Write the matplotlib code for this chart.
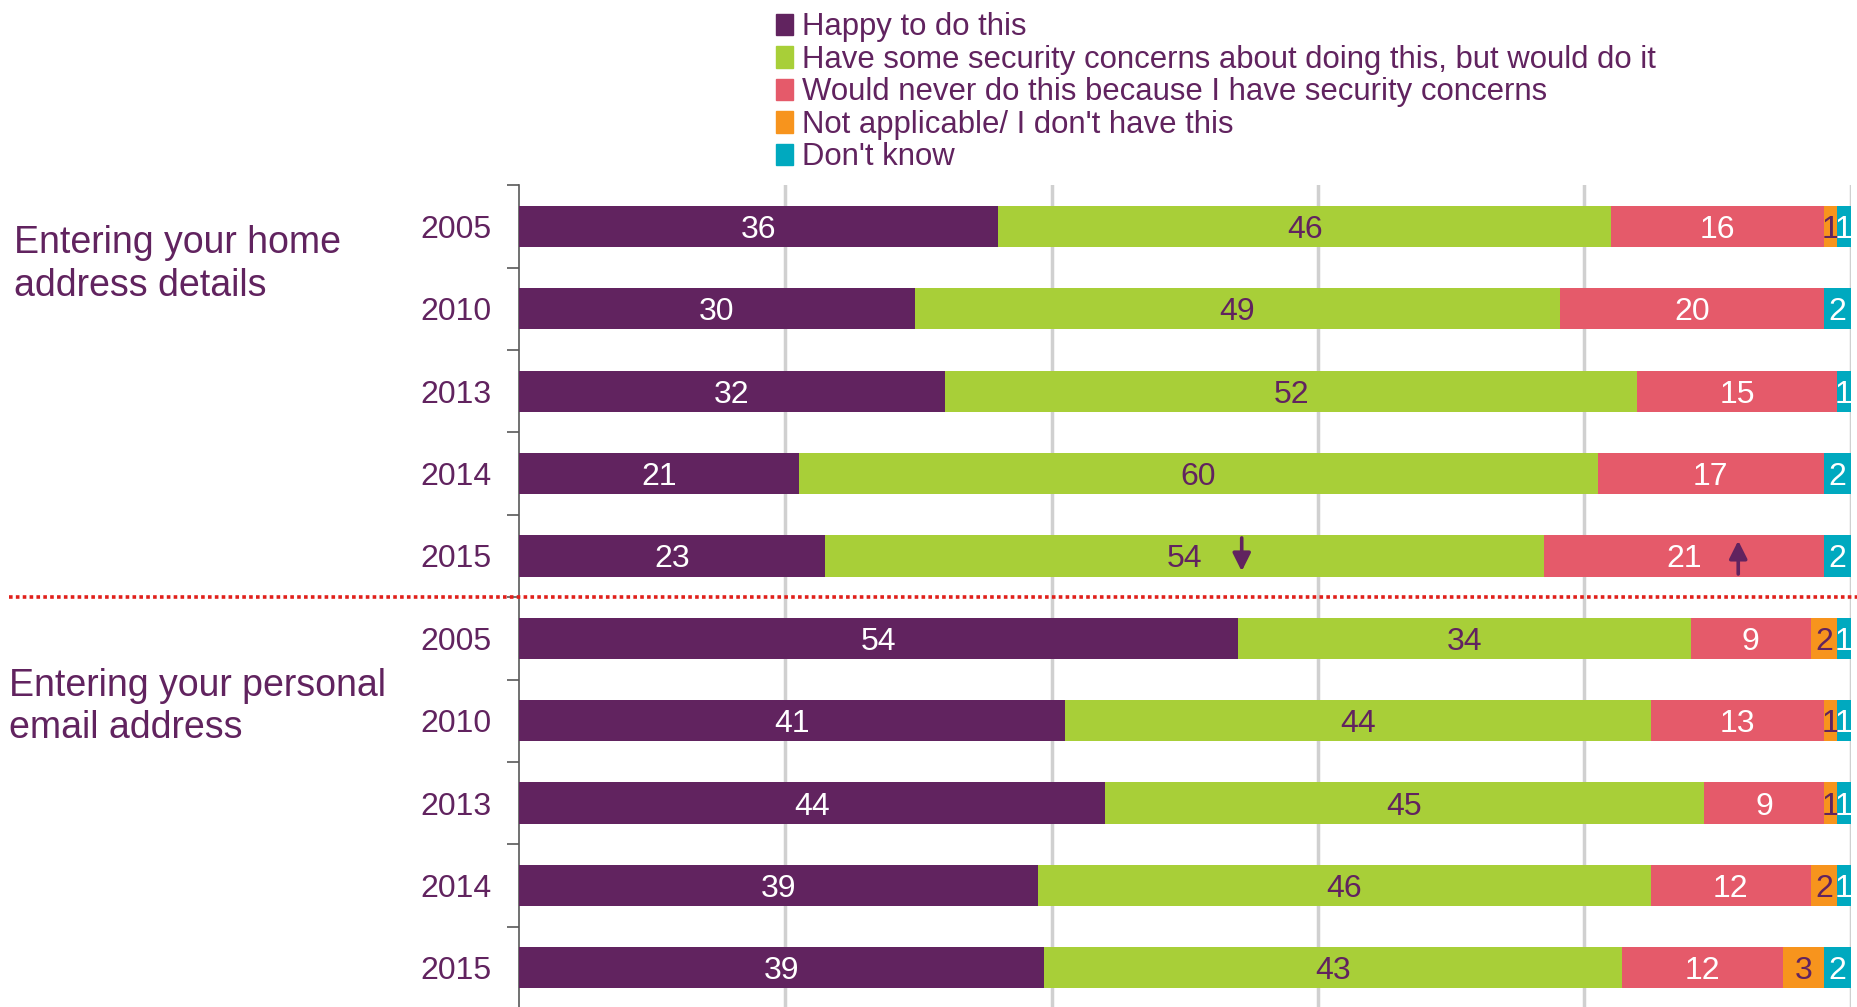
import numpy as np
import matplotlib.pyplot as plt
import matplotlib.transforms as mtransforms
from matplotlib.patches import Patch

plt.rcParams['font.family'] = ['Liberation Sans', 'DejaVu Sans']

# data
years = ['2005', '2010', '2013', '2014', '2015', '2005', '2010', '2013', '2014', '2015']
groups = ['Entering your home\naddress details', 'Entering your personal\nemail address']
series_names = ['Happy to do this',
                'Have some security concerns about doing this, but would do it',
                'Would never do this because I have security concerns',
                "Not applicable/ I don't have this",
                "Don't know"]
happy = [36, 30, 32, 21, 23, 54, 41, 44, 39, 39]
concerns = [46, 49, 52, 60, 54, 34, 44, 45, 46, 43]
never = [16, 20, 15, 17, 21, 9, 13, 9, 12, 12]
not_app = [1, 0, 0, 0, 0, 2, 1, 1, 2, 3]
dont_know = [1, 2, 1, 2, 2, 1, 1, 1, 1, 2]

purple = '#61235f'
colors = ['#61235f', '#a8cf38', '#e55a6a', '#f7941d', '#00a9bf']
text_colors = ['white', purple, 'white', purple, 'white']

fig = plt.figure(figsize=(18.57, 10.07), dpi=100)
ax = fig.add_axes([0.2795, -0.002, 0.717, 0.818])

vals = np.array([happy, concerns, never, not_app, dont_know], dtype=float)
widths = vals / vals.sum(axis=0) * 100
y = np.arange(len(years))
left = np.zeros(len(years))
for i in range(len(series_names)):
    ax.barh(y, widths[i], left=left, height=0.5, color=colors[i], label=series_names[i], zorder=3)
    for j in range(len(years)):
        if vals[i, j] > 0:
            ax.text(left[j] + widths[i, j] / 2, y[j], '%d' % vals[i, j], ha='center',
                    va='center_baseline', color=text_colors[i], fontsize=23, zorder=4)
    left += widths[i]

# significance arrows on home address 2015 row
r = 4
cg = widths[0, r] + widths[1, r] / 2
cr = widths[0, r] + widths[1, r] + widths[2, r] / 2
arr_kw = dict(arrowstyle='-|>', color=purple, lw=2.6, mutation_scale=27, shrinkA=0, shrinkB=0)
tr = ax.transData
for xc, down, dx in [(cg, True, 41), (cr, False, 39)]:
    p0 = mtransforms.offset_copy(tr, fig=fig, x=dx, y=13 if down else -13, units='points')
    p1 = mtransforms.offset_copy(tr, fig=fig, x=dx, y=-11 if down else 11, units='points')
    ax.annotate('', xy=(xc, y[r]), xycoords=p1, xytext=(xc, y[r]), textcoords=p0,
                arrowprops=arr_kw, zorder=5)

ax.set_xlim(0, 100)
ax.set_ylim(9.5, -0.5)
ax.set_xticks([20, 40, 60, 80, 100])
ax.xaxis.grid(True, color='#d0d0d0', lw=2.5, zorder=0)
ax.tick_params(axis='x', length=0, labelbottom=False)
ax.set_yticks(y)
ax.set_yticklabels(years, fontsize=23, color=purple)
ax.tick_params(axis='y', which='major', length=0, pad=20)
ax.set_yticks(np.arange(-0.5, 9.6, 1), minor=True)
ax.tick_params(axis='y', which='minor', length=9, width=1.2, color='#595959', direction='out')
for s in ['top', 'right', 'bottom']:
    ax.spines[s].set_visible(False)
ax.spines['left'].set_color('#595959')
ax.spines['left'].set_linewidth(1.2)

# dotted separator between the two groups
bt = mtransforms.blended_transform_factory(fig.transFigure, ax.transData)
ax.plot([0.005, 1.0], [4.5, 4.5], transform=bt, color='#e0201b', lw=2.6,
        linestyle=(0, (1.0, 0.9)), clip_on=False, zorder=6)

ax.text(0.0075, 0.46, groups[0], transform=bt, fontsize=27, color=purple, va='center',
        ha='left', linespacing=1.25)
ax.text(0.005, 5.83, groups[1], transform=bt, fontsize=27, color=purple, va='center',
        ha='left', linespacing=1.22)

handles = [Patch(color=c) for c in colors]
fig.legend(handles, series_names, loc='upper left', bbox_to_anchor=(0.411, 1.0), frameon=False,
           fontsize=22.4, labelcolor=purple, handlelength=0.55, handleheight=0.7, handletextpad=0.3,
           labelspacing=0.08, borderaxespad=0)

fig.savefig('out.png', dpi=100)
